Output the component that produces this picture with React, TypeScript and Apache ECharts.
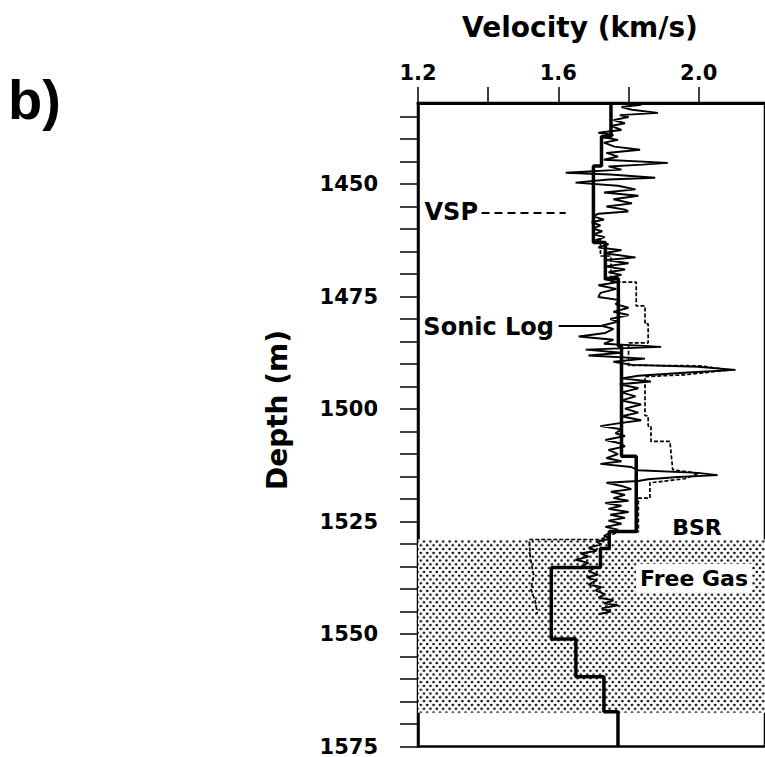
import React, { useEffect, useRef } from "react";
import * as echarts from "echarts";

// Axis ticks / labels
const velocityTicks = [1.2, 1.4, 1.6, 1.8, 2.0];
const velocityLabels = [1.2, 1.6, 2.0];
const depthTicks = [
  1435, 1440, 1445, 1450, 1455, 1460, 1465, 1470, 1475, 1480, 1485, 1490, 1495,
  1500, 1505, 1510, 1515, 1520, 1525, 1530, 1535, 1540, 1545, 1550, 1555, 1560,
  1565, 1570, 1575,
];
const depthLabels = [1450, 1475, 1500, 1525, 1550, 1575];

// Sonic log (thin jagged trace)
const sonicDepth = [
  1432.0, 1432.4, 1432.9, 1433.5, 1434.2, 1434.7, 1435.1, 1435.8, 1436.5, 1437.1,
  1438.0, 1438.6, 1439.1, 1439.5, 1440.2, 1440.8, 1441.7, 1442.4, 1443.1, 1443.9,
  1444.6, 1445.3, 1445.7, 1446.1, 1446.8, 1447.5, 1447.9, 1448.6, 1449.0, 1449.7,
  1450.4, 1451.2, 1451.9, 1452.6, 1453.4, 1454.3, 1455.0, 1455.7, 1456.1, 1456.6,
  1457.2, 1457.9, 1458.5, 1459.2, 1459.9, 1460.5, 1461.2, 1461.8, 1462.5, 1463.4,
  1464.1, 1464.7, 1465.4, 1466.3, 1466.9, 1467.6, 1468.3, 1469.0, 1469.6, 1470.2,
  1471.1, 1471.8, 1472.5, 1473.3, 1474.2, 1475.1, 1475.8, 1476.7, 1477.5, 1478.4,
  1479.1, 1480.0, 1480.6, 1481.5, 1482.2, 1483.1, 1483.9, 1484.6, 1485.5, 1486.2,
  1486.8, 1487.5, 1488.1, 1488.8, 1489.5, 1490.2, 1490.6, 1491.3, 1491.9, 1492.6,
  1493.2, 1493.9, 1494.5, 1495.4, 1496.3, 1497.2, 1498.1, 1499.0, 1499.9, 1500.8,
  1501.6, 1502.5, 1503.2, 1503.8, 1504.5, 1505.4, 1506.0, 1506.9, 1507.6, 1508.3,
  1509.1, 1510.0, 1510.9, 1511.6, 1512.2, 1512.9, 1513.6, 1514.2, 1514.7, 1515.1,
  1515.6, 1516.0, 1516.4, 1517.1, 1517.8, 1518.4, 1519.1, 1519.8, 1520.4, 1520.9,
  1521.5, 1522.2, 1522.9, 1523.5, 1524.2, 1524.8, 1525.5, 1526.2, 1526.8, 1527.5,
  1528.2, 1528.8, 1529.5, 1530.1, 1530.8, 1531.5, 1532.1, 1532.8, 1533.5, 1534.2,
  1534.8, 1535.5, 1536.1, 1536.8, 1537.4, 1538.1, 1539.0, 1539.6, 1540.3, 1541.2,
  1541.9, 1542.5, 1543.2, 1543.6, 1544.3, 1545.0, 1545.6,
];
const sonicVelocity = [
  1.77, 1.836, 1.78, 1.81, 1.884, 1.775, 1.8, 1.757, 1.79, 1.75,
  1.78, 1.714, 1.757, 1.72, 1.77, 1.73, 1.76, 1.833, 1.737, 1.77,
  1.73, 1.912, 1.84, 1.743, 1.78, 1.621, 1.748, 1.876, 1.743, 1.649,
  1.77, 1.82, 1.73, 1.828, 1.757, 1.81, 1.737, 1.79, 1.799, 1.714,
  1.7, 1.73, 1.695, 1.72, 1.698, 1.725, 1.7, 1.732, 1.706, 1.743,
  1.714, 1.78, 1.73, 1.82, 1.737, 1.8, 1.734, 1.79, 1.743, 1.78,
  1.73, 1.77, 1.714, 1.765, 1.72, 1.714, 1.775, 1.763, 1.8, 1.757,
  1.8, 1.748, 1.77, 1.723, 1.757, 1.734, 1.658, 1.757, 1.73, 1.893,
  1.678, 1.78, 1.686, 1.847, 1.757, 1.81, 1.997, 2.105, 1.969, 1.828,
  1.78, 1.864, 1.775, 1.828, 1.78, 1.82, 1.78, 1.836, 1.79, 1.828,
  1.78, 1.836, 1.77, 1.72, 1.78, 1.763, 1.79, 1.734, 1.775, 1.79,
  1.743, 1.77, 1.737, 1.78, 1.72, 1.808, 1.828, 1.997, 2.054, 1.941,
  1.856, 1.828, 1.737, 1.78, 1.808, 1.75, 1.79, 1.757, 1.8, 1.734,
  1.78, 1.743, 1.8, 1.748, 1.79, 1.743, 1.78, 1.734, 1.77, 1.748,
  1.73, 1.748, 1.709, 1.723, 1.686, 1.709, 1.664, 1.686, 1.649, 1.686,
  1.667, 1.7, 1.686, 1.714, 1.681, 1.709, 1.686, 1.723, 1.706, 1.734,
  1.714, 1.757, 1.73, 1.77, 1.723, 1.75, 1.714,
];

// VSP interval velocities (thick step line): layer tops and velocities
const vspTop = [1432, 1439.5, 1446, 1463, 1471, 1486, 1510.5, 1527.2, 1531, 1535.2, 1551.1, 1559.5, 1567.3];
const vspVelocity = [1.75, 1.723, 1.7, 1.734, 1.771, 1.78, 1.822, 1.745, 1.72, 1.58, 1.65, 1.73, 1.77];
const vspBottom = 1575;

// Thin stepped (dashed) velocity curve
const stepDepth = [
  1462, 1466, 1466, 1471.8, 1471.8, 1477.1, 1477.1, 1481.1, 1481.1, 1485.3,
  1485.3, 1490.3, 1490.4, 1491.3, 1492.4, 1492.8, 1501.5, 1501.5, 1503.8, 1503.8,
  1507.2, 1507.2, 1513.5, 1514.3, 1515.5, 1516.4, 1519.8, 1519.8, 1527.3, 1527.3,
  1529.0, 1529.0, 1533, 1537, 1540, 1543, 1545.5,
];
const stepVelocity = [
  1.72, 1.72, 1.75, 1.75, 1.822, 1.822, 1.847, 1.847, 1.856, 1.856,
  1.8, 1.8, 2.0, 2.09, 1.96, 1.847, 1.847, 1.856, 1.856, 1.864,
  1.864, 1.918, 1.926, 2.0, 1.96, 1.861, 1.861, 1.828, 1.828, 1.771,
  1.72, 1.517, 1.52, 1.53, 1.522, 1.535, 1.54,
];

// Free gas zone (depth range)
const freeGasZone = [1529, 1567.5];

// Label leader lines: [depth, fromVelocity, toVelocity]
const vspLeader = [1456.3, 1.381, 1.621];
const sonicLeader = [1481.5, 1.601, 1.723];

const FONT = '"DejaVu Sans", "Liberation Sans", sans-serif';

function dotPattern() {
  const w = 6.4;
  const h = 7.6;
  const svg =
    `<svg xmlns="http://www.w3.org/2000/svg" width="${w}" height="${h}">` +
    `<rect width="${w}" height="${h}" fill="white"/>` +
    `<circle cx="1.6" cy="1.9" r="1.3" fill="black"/>` +
    `<circle cx="4.8" cy="5.7" r="1.3" fill="black"/>` +
    `</svg>`;
  return {
    type: "pattern",
    image: "data:image/svg+xml;utf8," + encodeURIComponent(svg),
    imageWidth: w,
    imageHeight: h,
    repeat: "repeat",
  } as any;
}

export default function App() {
  const ref = useRef<HTMLDivElement>(null);

  useEffect(() => {
    if (!ref.current) return;
    const chart = echarts.init(ref.current, undefined, { renderer: "svg" });

    const sonicData = sonicDepth.map((d, i) => [sonicVelocity[i], d]);
    const vspData: number[][] = [];
    vspTop.forEach((top, i) => {
      const bottom = i + 1 < vspTop.length ? vspTop[i + 1] : vspBottom;
      vspData.push([vspVelocity[i], top]);
      vspData.push([vspVelocity[i], bottom]);
    });
    const stepData = stepDepth.map((d, i) => [stepVelocity[i], d]);

    const textStyle = (
      text: string,
      size: number,
      align: string,
      vAlign: string,
      extra: any = {}
    ) => ({
      text,
      font: `bold ${size}px ${FONT}`,
      fill: "#000",
      align,
      verticalAlign: vAlign,
      textAlign: align,
      textVerticalAlign: vAlign,
      ...extra,
    });

    chart.setOption({
      animation: false,
      backgroundColor: "#fff",
      grid: {
        left: 418,
        top: 103,
        right: -3,
        bottom: 7,
        show: true,
        borderColor: "#000",
        borderWidth: 2.5,
        containLabel: false,
      },
      xAxis: {
        type: "value",
        position: "top",
        min: 1.2,
        max: 2.189,
        axisLine: { show: true, onZero: false, lineStyle: { color: "#000", width: 3 } },
        axisTick: {
          show: true,
          inside: false,
          length: 16,
          customValues: velocityTicks,
          lineStyle: { color: "#000", width: 1.5 },
        },
        axisLabel: {
          show: true,
          customValues: velocityLabels,
          formatter: (v: number) => v.toFixed(1),
          color: "#000",
          fontSize: 21,
          fontWeight: "bold",
          fontFamily: FONT,
          margin: 20,
        },
        splitLine: { show: false },
      },
      yAxis: {
        type: "value",
        inverse: true,
        min: 1432,
        max: 1575,
        axisLine: { show: true, onZero: false, lineStyle: { color: "#000", width: 2.5 } },
        axisTick: {
          show: true,
          inside: false,
          length: 18,
          customValues: depthTicks,
          lineStyle: { color: "#000", width: 1.5 },
        },
        axisLabel: {
          show: true,
          customValues: depthLabels,
          formatter: (v: number) => String(v),
          color: "#000",
          fontSize: 21,
          fontWeight: "bold",
          fontFamily: FONT,
          margin: 40,
        },
        splitLine: { show: false },
      },
      series: [
        {
          name: "Sonic Log",
          type: "line",
          data: sonicData,
          showSymbol: false,
          symbol: "none",
          z: 3,
          lineStyle: { color: "#000", width: 1.9 },
          markArea: {
            silent: true,
            z: 1,
            itemStyle: { color: dotPattern() },
            data: [[{ yAxis: freeGasZone[0] }, { yAxis: freeGasZone[1] }]],
          },
          markLine: {
            silent: true,
            symbol: ["none", "none"],
            label: { show: false },
            lineStyle: { color: "#000", width: 2, type: "solid" },
            data: [
              [
                { coord: [sonicLeader[1], sonicLeader[0]] },
                { coord: [sonicLeader[2], sonicLeader[0]] },
              ],
            ],
          },
        },
        {
          name: "Step",
          type: "line",
          data: stepData,
          showSymbol: false,
          symbol: "none",
          z: 3,
          lineStyle: { color: "#000", width: 1.7, type: [4, 2] },
        },
        {
          name: "VSP",
          type: "line",
          data: vspData,
          showSymbol: false,
          symbol: "none",
          z: 4,
          lineStyle: { color: "#000", width: 3.5 },
          markLine: {
            silent: true,
            symbol: ["none", "none"],
            label: { show: false },
            lineStyle: { color: "#000", width: 2, type: [8, 5] },
            data: [
              [
                { coord: [vspLeader[1], vspLeader[0]] },
                { coord: [vspLeader[2], vspLeader[0]] },
              ],
            ],
          },
        },
      ],
      graphic: [
        {
          type: "text",
          x: 8,
          y: 99,
          z: 100,
          style: textStyle("b)", 56, "left", "middle", {
            font: 'bold 56px "Liberation Sans", sans-serif',
          }),
        },
        {
          type: "text",
          x: 580,
          y: 27,
          z: 100,
          style: textStyle("Velocity (km/s)", 28, "center", "middle"),
        },
        {
          type: "text",
          x: 277,
          y: 410,
          z: 100,
          rotation: Math.PI / 2,
          style: textStyle("Depth (m)", 28, "center", "middle"),
        },
        {
          type: "text",
          x: 478,
          y: 212,
          z: 100,
          style: textStyle("VSP", 24, "right", "middle"),
        },
        {
          type: "text",
          x: 554,
          y: 327,
          z: 100,
          style: textStyle("Sonic Log", 24, "right", "middle"),
        },
        {
          type: "text",
          x: 697,
          y: 527,
          z: 100,
          style: textStyle("BSR", 22, "center", "middle"),
        },
        {
          type: "text",
          x: 694,
          y: 578,
          z: 100,
          style: textStyle("Free Gas", 22, "center", "middle", {
            backgroundColor: "#fff",
            padding: [3, 4, 3, 4],
          }),
        },
      ],
    });

    return () => chart.dispose();
  }, []);

  return (
    <div
      ref={ref}
      style={{ position: "fixed", left: 0, top: 0, width: 765, height: 757 }}
    />
  );
}
